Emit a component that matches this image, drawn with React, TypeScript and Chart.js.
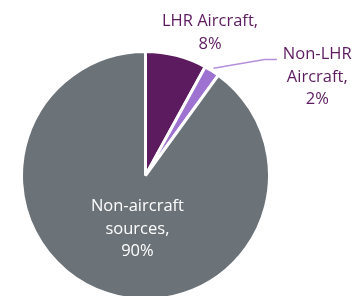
import React, { useEffect, useRef } from "react";
import { Chart, registerables } from "chart.js";

Chart.register(...registerables);

const categories = ["LHR Aircraft", "Non-LHR Aircraft", "Non-aircraft sources"];
const values = [8, 2, 90];
const labelParts = [["LHR Aircraft,"], ["Non-LHR", "Aircraft,"], ["Non-aircraft", "sources,"]];
const sliceColors = ["#5c1a5f", "#9d72d0", "#6b7278"];
const textColors = ["#5c1a5f", "#5c1a5f", "#ffffff"];
const leaderColor = "#b48fdc";

const FONT = "16.5px 'Open Sans', 'Noto Sans', sans-serif";

const labelPlugin = {
  id: "pieLabels",
  afterDatasetsDraw(chart: any) {
    const meta = chart.getDatasetMeta(0);
    const ctx = chart.ctx as CanvasRenderingContext2D;
    const arcs = meta.data as any[];
    if (!arcs.length) return;
    const { x: cx, y: cy, outerRadius: r } = arcs[0].getProps(["x", "y", "outerRadius"], true);
    const lineH = 22.3;
    ctx.save();
    ctx.font = FONT;
    ctx.textAlign = "center";
    ctx.textBaseline = "middle";

    const linesFor = (i: number) => [...labelParts[i], values[i] + "%"];

    // LHR Aircraft label (above slice)
    ctx.fillStyle = textColors[0];
    linesFor(0).forEach((t, k) => ctx.fillText(t, cx + 0.52 * r, cy - 1.24 * r + k * lineH));

    // Non-LHR Aircraft: leader line + label
    const a1 = arcs[1].getProps(["startAngle", "endAngle"], true);
    const mid = (a1.startAngle + a1.endAngle) / 2;
    const sx = cx + Math.cos(mid) * (r + 3);
    const sy = cy + Math.sin(mid) * (r + 3);
    const ex = cx + 0.96 * r;
    const ey = cy - 0.935 * r;
    ctx.strokeStyle = leaderColor;
    ctx.lineWidth = 1.5;
    ctx.beginPath();
    ctx.moveTo(sx, sy);
    ctx.lineTo(ex, ey);
    ctx.lineTo(cx + 1.06 * r, ey);
    ctx.stroke();
    ctx.fillStyle = textColors[1];
    linesFor(1).forEach((t, k) => ctx.fillText(t, cx + 1.385 * r, cy - 0.975 * r + k * lineH));

    // Non-aircraft sources: inside
    ctx.fillStyle = textColors[2];
    linesFor(2).forEach((t, k) => ctx.fillText(t, cx - 0.065 * r, cy + 0.25 * r + k * lineH));

    ctx.restore();
  },
};

export default function App() {
  const ref = useRef<HTMLCanvasElement>(null);
  useEffect(() => {
    if (!ref.current) return;
    const chart = new Chart(ref.current, {
      type: "pie",
      data: {
        labels: categories,
        datasets: [
          {
            data: values,
            backgroundColor: sliceColors,
            borderColor: "#ffffff",
            borderWidth: 3,
          },
        ],
      },
      options: {
        responsive: false,
        animation: false,
        layout: { padding: { left: 20, right: 85, top: 50, bottom: 3 } },
        plugins: { legend: { display: false }, tooltip: { enabled: false } },
      },
      plugins: [labelPlugin],
    });
    return () => chart.destroy();
  }, []);
  return (
    <div style={{ position: "fixed", left: 0, top: 0, width: 356, height: 296, overflow: "hidden", background: "#fff" }}>
      <canvas ref={ref} width={356} height={304} style={{ display: "block" }} />
    </div>
  );
}
